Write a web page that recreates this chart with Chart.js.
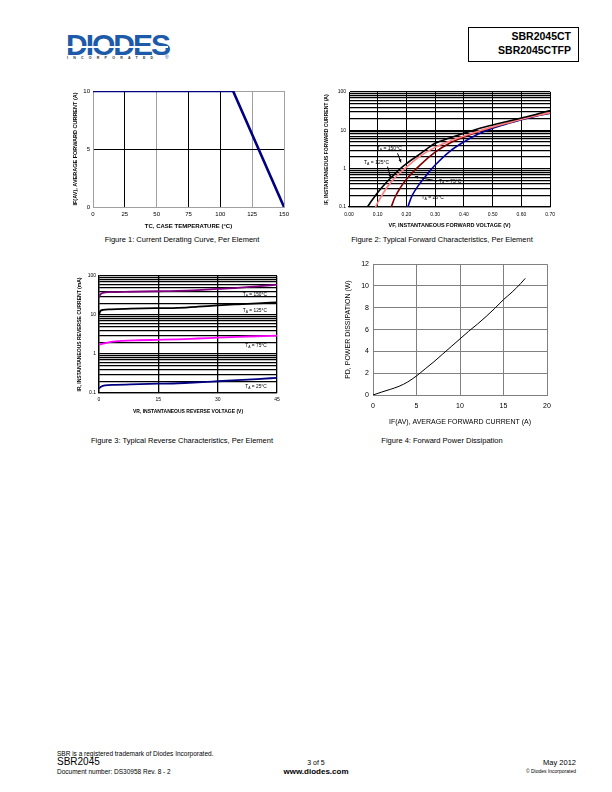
<!DOCTYPE html>
<html>
<head>
<meta charset="utf-8">
<script src="https://cdn.jsdelivr.net/npm/chart.js"></script>
<style>
  html,body{margin:0;padding:0;background:#fff;}
  body{width:612px;height:792px;position:relative;overflow:hidden;font-family:"Liberation Sans",Arial,sans-serif;color:#000;}
  .abs{position:absolute;white-space:nowrap;line-height:1;color:#000;}
  canvas{position:absolute;}
  .cap{font-size:7.5px;transform:translateX(-50%);}
</style>
</head>
<body>
<!-- header logo -->
<div class="abs" style="left:66px;top:30px;font-size:30px;font-weight:bold;color:#1d5ba8;letter-spacing:-2px;">DIODES</div>
<div class="abs" style="left:66px;top:46px;width:102px;height:1.5px;background:#fff;"></div>
<div class="abs" style="left:67px;top:57px;font-size:3.6px;font-weight:bold;color:#333;letter-spacing:5.2px;">INCORPORATED</div>
<div class="abs" style="left:165px;top:55px;font-size:5px;color:#1d5ba8;">®</div>
<!-- part number box -->
<div class="abs" style="left:468px;top:27px;width:109px;height:33px;border:1px solid #000;"></div>
<div class="abs" style="right:41px;top:31px;font-size:10.5px;font-weight:bold;">SBR2045CT</div>
<div class="abs" style="right:41px;top:45px;font-size:10.5px;font-weight:bold;">SBR2045CTFP</div>

<canvas id="c1" width="240" height="150" style="left:60px;top:84px;width:240px;height:150px;"></canvas>
<canvas id="c2" width="240" height="150" style="left:320px;top:84px;width:240px;height:150px;"></canvas>
<canvas id="c3" width="240" height="152" style="left:60px;top:268px;width:240px;height:152px;"></canvas>
<canvas id="c4" width="240" height="180" style="left:330px;top:256px;width:240px;height:180px;"></canvas>

<div class="abs cap" style="left:182px;top:236px;">Figure 1: Current Derating Curve, Per Element</div>
<div class="abs cap" style="left:442px;top:236px;">Figure 2: Typical Forward Characteristics, Per Element</div>
<div class="abs cap" style="left:182px;top:437px;">Figure 3: Typical Reverse Characteristics, Per Element</div>
<div class="abs cap" style="left:442px;top:437px;">Figure 4: Forward Power Dissipation</div>

<!-- footer -->
<div class="abs" style="left:57px;top:751px;font-size:6.5px;">SBR is a registered trademark of Diodes Incorporated.</div>
<div class="abs" style="left:57px;top:757px;font-size:10px;">SBR2045</div>
<div class="abs" style="left:57px;top:769px;font-size:6.5px;">Document number: DS30958 Rev. 8 - 2</div>
<div class="abs" style="left:316px;top:759px;font-size:7px;transform:translateX(-50%);">3 of 5</div>
<div class="abs" style="left:316px;top:768px;font-size:8px;font-weight:bold;transform:translateX(-50%);">www.diodes.com</div>
<div class="abs" style="right:36px;top:759px;font-size:7.5px;">May 2012</div>
<div class="abs" style="right:36px;top:769px;font-size:5px;">© Diodes Incorporated</div>

<script>
// ---------------- DATA ----------------
// Figure 1: current derating
const caseTemp = [0, 110, 150];
const derateCurrent = [10, 10, 0];
const fig1XTicks = [0, 25, 50, 75, 100, 125, 150];

// Figure 2: forward characteristics (VF in V, IF in A)
const vf150 = [0.064,0.08,0.10,0.125,0.15,0.175,0.20,0.25,0.30,0.35,0.40,0.45,0.50,0.55,0.60,0.65,0.70];
const if150 = [0.1,0.15,0.24,0.4,0.62,0.95,1.35,2.5,4.6,6.3,8.4,11,13.8,17,21,26,33];
const vf125 = [0.092,0.10,0.125,0.15,0.175,0.20,0.25,0.30,0.35,0.40,0.45,0.50,0.55,0.60,0.65,0.70];
const if125 = [0.1,0.13,0.27,0.48,0.75,1.1,2.2,3.6,5.2,7.1,9.5,12.3,15.5,19.5,24,29];
const vf75 = [0.147,0.16,0.18,0.20,0.25,0.30,0.35,0.40,0.45,0.50,0.55,0.60,0.65,0.70];
const if75 = [0.1,0.18,0.33,0.53,1.3,2.7,4.6,6.7,9.2,12,15.3,19.5,24,29];
const vf25 = [0.205,0.21,0.22,0.24,0.26,0.28,0.30,0.35,0.40,0.45,0.50,0.55,0.60,0.65,0.70];
const if25 = [0.1,0.13,0.2,0.35,0.55,0.85,1.25,2.8,5.0,8.0,11.3,14.8,19,23.5,28];

// Figure 3: reverse characteristics (VR in V, IR in mA)
const vr150 = [0,0.3,1,3,8,15,20,25,30,35,40,45];
const ir150 = [28,33,37,38.5,39.5,40.7,41.5,43.5,46.5,49.5,54,60];
const vr125 = [0,0.3,1,3,8,15,20,25,30,35,40,45];
const ir125 = [10,12.5,13.5,14,14.5,15,15.3,16.3,17.7,18.8,19.8,21];
const vr75 = [0,1,3,6,10,15,20,25,30,35,40,45];
const ir75 = [1.73,1.85,2.05,2.18,2.25,2.31,2.38,2.5,2.62,2.75,2.85,2.97];
const vr25 = [0,0.5,1.5,4,8,15,20,25,30,35,40,45];
const ir25 = [0.131,0.145,0.157,0.162,0.166,0.173,0.178,0.188,0.2,0.213,0.228,0.245];

// Figure 4: forward power dissipation
const ifav = [0,1,2,3,4,5,6,7,8,9,10,11,12,13,14,15,16,17,17.5];
const pd = [0,0.27,0.52,0.8,1.2,1.75,2.4,3.05,3.75,4.45,5.15,5.85,6.5,7.2,7.95,8.75,9.45,10.25,10.7];

// ---------------- HELPERS ----------------
const FONT = '"Liberation Sans", Arial, sans-serif';
Chart.defaults.font.family = FONT;
Chart.defaults.color = '#000';
const zip = (xs, ys) => xs.map((x, i) => ({x, y: ys[i]}));
const logTicks = [];
for (let e = -1; e <= 1; e++) for (let k = 1; k <= 9; k++) logTicks.push(+(k * Math.pow(10, e)).toFixed(3));
logTicks.push(100);
const isDecade = v => Math.abs(Math.log10(v) - Math.round(Math.log10(v))) < 1e-6;

function drawSubText(ctx, x, y, text, size, align) {
  const parts = [];
  for (let i = 0; i < text.length; i++) {
    if (text[i] === '_') { parts.push({t: text[i + 1], sub: true}); i++; }
    else {
      if (parts.length && !parts[parts.length - 1].sub) parts[parts.length - 1].t += text[i];
      else parts.push({t: text[i], sub: false});
    }
  }
  const fN = size + 'px ' + FONT, fS = (size * 0.7) + 'px ' + FONT;
  let w = 0;
  parts.forEach(p => { ctx.font = p.sub ? fS : fN; p.w = ctx.measureText(p.t).width; w += p.w; });
  let cx = align === 'left' ? x : x - w / 2;
  ctx.textBaseline = 'middle'; ctx.textAlign = 'left'; ctx.fillStyle = '#000';
  parts.forEach(p => { ctx.font = p.sub ? fS : fN; ctx.fillText(p.t, cx, p.sub ? y + size * 0.3 : y); cx += p.w; });
}

const notesPlugin = {
  id: 'notes',
  afterDatasetsDraw(chart, args, opts) {
    const {ctx} = chart; const xs = chart.scales.x, ys = chart.scales.y;
    ctx.save();
    (opts.arrows || []).forEach(a => {
      const x1 = xs.getPixelForValue(a.x1), y1 = ys.getPixelForValue(a.y1);
      const x2 = xs.getPixelForValue(a.x2), y2 = ys.getPixelForValue(a.y2);
      ctx.strokeStyle = '#000'; ctx.lineWidth = 1;
      ctx.beginPath(); ctx.moveTo(x1, y1); ctx.lineTo(x2, y2); ctx.stroke();
      const ang = Math.atan2(y2 - y1, x2 - x1), L = 3.5;
      ctx.fillStyle = '#000'; ctx.beginPath(); ctx.moveTo(x2, y2);
      ctx.lineTo(x2 - L * Math.cos(ang - 0.45), y2 - L * Math.sin(ang - 0.45));
      ctx.lineTo(x2 - L * Math.cos(ang + 0.45), y2 - L * Math.sin(ang + 0.45));
      ctx.closePath(); ctx.fill();
    });
    (opts.labels || []).forEach(l => {
      drawSubText(ctx, xs.getPixelForValue(l.x), ys.getPixelForValue(l.y), l.text, opts.size || 5, l.align || 'center');
    });
    ctx.restore();
  }
};

function line(data, color, width, smooth) {
  return {data, showLine: true, borderColor: color, backgroundColor: color, borderWidth: width,
          pointRadius: 0, tension: smooth ? 0.4 : 0, cubicInterpolationMode: smooth ? 'monotone' : 'default', fill: false};
}
const baseOpts = (padding) => ({
  responsive: false, animation: false, devicePixelRatio: 1,
  layout: {padding},
  plugins: {legend: {display: false}, tooltip: {enabled: false}},
});

// ---------------- FIGURE 1 ----------------
new Chart(document.getElementById('c1'), {
  type: 'scatter',
  data: {datasets: [line(zip(caseTemp, derateCurrent), '#000080', 2.6, false)]},
  options: Object.assign(baseOpts({left: 0, top: 7, right: 16, bottom: 4}), {
    scales: {
      x: {type: 'linear', min: 0, max: 150,
          afterBuildTicks: s => { s.ticks = fig1XTicks.map(v => ({value: v})); },
          ticks: {padding: 4, font: {size: 6}, maxRotation: 0, autoSkip: false},
          grid: {drawTicks: false, lineWidth: 1, color: c => ([25, 75, 100].includes(c.tick && c.tick.value) ? '#000' : '#a0a0a0')},
          border: {color: '#a0a0a0', width: 1},
          title: {display: true, text: 'TC, CASE TEMPERATURE (°C)', font: {size: 6, weight: 'bold'}, padding: 0},
          afterFit: s => { s.height = 23; }},
      y: {min: 0, max: 10,
          ticks: {stepSize: 5, padding: 3, font: {size: 6}},
          grid: {drawTicks: false, lineWidth: 1, color: c => (c.tick && c.tick.value === 5 ? '#000' : '#a0a0a0')},
          border: {color: '#a0a0a0', width: 1},
          title: {display: true, text: 'IF(AV), AVERAGE FORWARD CURRENT (A)', font: {size: 5.5, weight: 'bold'}, padding: {top: 12}},
          afterFit: s => { s.width = 33; }}
    }
  })
});

// ---------------- FIGURE 2 ----------------
new Chart(document.getElementById('c2'), {
  type: 'scatter',
  data: {datasets: [
    line(zip(vf150, if150), '#000000', 1.6, true),
    line(zip(vf125, if125), '#ff8080', 1.6, true),
    line(zip(vf75, if75), '#800000', 1.6, true),
    line(zip(vf25, if25), '#0000a0', 1.6, true)
  ]},
  plugins: [notesPlugin],
  options: Object.assign(baseOpts({left: 0, top: 8, right: 9, bottom: 5}), {
    plugins: {legend: {display: false}, tooltip: {enabled: false},
      notes: {size: 5,
        labels: [
          {x: 0.140, y: 3.26, text: 'T_A = 150°C'},
          {x: 0.096, y: 1.47, text: 'T_A = 125°C'},
          {x: 0.352, y: 0.457, text: 'T_A = 75°C'},
          {x: 0.291, y: 0.175, text: 'T_A = 25°C'}
        ],
        arrows: [
          {x1: 0.169, y1: 2.52, x2: 0.181, y2: 1.45},
          {x1: 0.134, y1: 1.13, x2: 0.145, y2: 0.58},
          {x1: 0.306, y1: 0.476, x2: 0.229, y2: 0.617}
        ]}},
    scales: {
      x: {type: 'linear', min: 0, max: 0.7,
          ticks: {stepSize: 0.1, padding: 5, font: {size: 5}, maxRotation: 0, autoSkip: false, callback: v => Number(v).toFixed(2)},
          grid: {drawTicks: false, lineWidth: 1, color: '#000'},
          border: {color: '#000', width: 1.2},
          title: {display: true, text: 'VF, INSTANTANEOUS FORWARD VOLTAGE (V)', font: {size: 5.5, weight: 'bold'}, padding: 0},
          afterFit: s => { s.height = 22; }},
      y: {type: 'logarithmic', min: 0.1, max: 100,
          afterBuildTicks: s => { s.ticks = logTicks.map(v => ({value: v})); },
          ticks: {padding: 3, font: {size: 5}, autoSkip: false, callback: v => (isDecade(v) ? String(+v) : '')},
          grid: {drawTicks: false, lineWidth: 1.3, color: '#000'},
          border: {color: '#000', width: 1},
          title: {display: true, text: 'IF, INSTANTANEOUS FORWARD CURRENT (A)', font: {size: 5, weight: 'bold'}, padding: {top: 4}},
          afterFit: s => { s.width = 29; }}
    }
  })
});

// ---------------- FIGURE 3 ----------------
new Chart(document.getElementById('c3'), {
  type: 'scatter',
  data: {datasets: [
    line(zip(vr150, ir150), '#800080', 1.8, true),
    line(zip(vr125, ir125), '#000000', 1.8, true),
    line(zip(vr75, ir75), '#ff00ff', 1.8, true),
    line(zip(vr25, ir25), '#000080', 1.8, true)
  ]},
  plugins: [notesPlugin],
  options: Object.assign(baseOpts({left: 0, top: 8, right: 23, bottom: 5}), {
    plugins: {legend: {display: false}, tooltip: {enabled: false},
      notes: {size: 4.8,
        labels: [
          {x: 39.4, y: 32.5, text: 'T_A = 150°C'},
          {x: 39.4, y: 13.0, text: 'T_A = 125°C'},
          {x: 39.7, y: 1.65, text: 'T_A = 75°C'},
          {x: 39.7, y: 0.148, text: 'T_A = 25°C'}
        ]}},
    scales: {
      x: {type: 'linear', min: 0, max: 45,
          ticks: {stepSize: 15, padding: 4, font: {size: 5}, maxRotation: 0, autoSkip: false},
          grid: {drawTicks: false, lineWidth: 1.3, color: '#000'},
          border: {color: '#000', width: 1.3},
          title: {display: true, text: 'VR, INSTANTANEOUS REVERSE VOLTAGE (V)', font: {size: 5, weight: 'bold'}, padding: 0},
          afterFit: s => { s.height = 22; }},
      y: {type: 'logarithmic', min: 0.1, max: 100,
          afterBuildTicks: s => { s.ticks = logTicks.map(v => ({value: v})); },
          ticks: {padding: 3, font: {size: 5}, autoSkip: false, callback: v => (isDecade(v) ? String(+v) : '')},
          grid: {drawTicks: false, lineWidth: 1.3, color: '#000'},
          border: {color: '#000', width: 1.3},
          title: {display: true, text: 'IR, INSTANTANEOUS REVERSE CURRENT (mA)', font: {size: 5, weight: 'bold'}, padding: {top: 17}},
          afterFit: s => { s.width = 39; }}
    }
  })
});

// ---------------- FIGURE 4 ----------------
new Chart(document.getElementById('c4'), {
  type: 'scatter',
  data: {datasets: [line(zip(ifav, pd), '#000000', 1, true)]},
  options: Object.assign(baseOpts({left: 0, top: 8, right: 23, bottom: 10}), {
    scales: {
      x: {type: 'linear', min: 0, max: 20,
          ticks: {stepSize: 5, padding: 7, font: {size: 7}, maxRotation: 0},
          grid: {drawTicks: false, lineWidth: 1, color: '#808080'},
          border: {color: '#808080', width: 1},
          title: {display: true, text: 'IF(AV), AVERAGE FORWARD CURRENT (A)', font: {size: 7}, padding: 0},
          afterFit: s => { s.height = 31; }},
      y: {min: 0, max: 12,
          ticks: {stepSize: 2, padding: 4, font: {size: 7}},
          grid: {drawTicks: false, lineWidth: 1, color: '#808080'},
          border: {color: '#808080', width: 1},
          title: {display: true, text: 'PD, POWER DISSIPATION (W)', font: {size: 7}, padding: {top: 14}},
          afterFit: s => { s.width = 43; }}
    }
  })
});
</script>
</body>
</html>
